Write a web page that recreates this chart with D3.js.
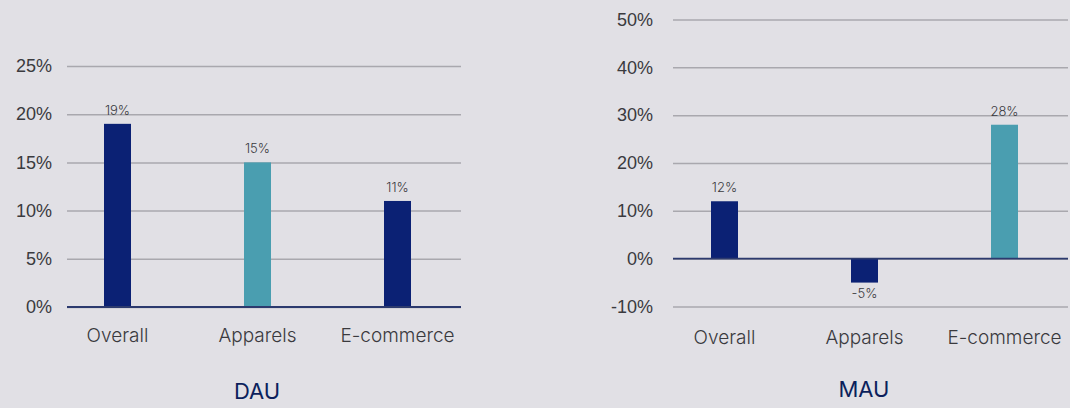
<!DOCTYPE html>
<html>
<head>
<meta charset="utf-8">
<script src="https://cdn.jsdelivr.net/npm/d3@7"></script>
<style>
  html, body { margin: 0; padding: 0; background: #e1e0e5; }
  svg { display: block; font-family: Inter, "Noto Sans", sans-serif; }
</style>
</head>
<body>
<svg id="chart" width="1070" height="408"></svg>
<script>
// Categories shared by both panels
const categories = ["Overall", "Apparels", "E-commerce"];

// Daily active users growth (%)
const dauValues = [19, 15, 11];
const dauTicks = [0, 5, 10, 15, 20, 25];

// Monthly active users growth (%)
const mauValues = [12, -5, 28];
const mauTicks = [-10, 0, 10, 20, 30, 40, 50];

const NAVY = "#0b2174";
const TEAL = "#4a9eb0";
const dauColors = [NAVY, TEAL, NAVY];
const mauColors = [NAVY, NAVY, TEAL];

const svg = d3.select("#chart");

function panel(opts) {
  const g = svg.append("g");
  const y = d3.scaleLinear().domain(opts.domain).range(opts.yRange);
  const x = d3.scalePoint().domain(categories).range(opts.xCenters);
  const barW = 27;

  // horizontal gridlines + tick labels
  const axis = d3.axisLeft(y)
    .tickValues(opts.ticks)
    .tickFormat(d => d + "%")
    .tickSize(-(opts.gridX[1] - opts.gridX[0]))
    .tickPadding(opts.gridX[0] - opts.labelRight);
  const ax = g.append("g")
    .attr("transform", `translate(${opts.gridX[0]},0)`)
    .call(axis);
  ax.select(".domain").remove();
  ax.selectAll(".tick line").attr("stroke", "#a9a8ae").attr("stroke-width", 1.5);
  ax.selectAll(".tick text")
    .attr("fill", "#3a3a3e")
    .style("font-size", "18px")
    .style("font-weight", 300);

  // bars
  g.selectAll("rect.bar")
    .data(opts.values)
    .join("rect")
    .attr("class", "bar")
    .attr("x", (d, i) => x(categories[i]) - barW / 2)
    .attr("width", barW)
    .attr("y", d => y(Math.max(0, d)))
    .attr("height", d => Math.abs(y(d) - y(0)))
    .attr("fill", (d, i) => opts.colors[i]);

  // zero baseline
  g.append("line")
    .attr("x1", opts.gridX[0]).attr("x2", opts.gridX[1])
    .attr("y1", y(0)).attr("y2", y(0))
    .attr("stroke", "#2c3a6e").attr("stroke-width", 1.8);

  // value labels
  g.selectAll("text.val")
    .data(opts.values)
    .join("text")
    .attr("class", "val")
    .attr("x", (d, i) => x(categories[i]))
    .attr("y", d => d >= 0 ? y(d) - 9 : y(d) + 15)
    .attr("text-anchor", "middle")
    .attr("fill", "#3a3a3e")
    .style("font-size", "13px")
    .style("font-weight", 300)
    .text(d => d + "%");

  // category labels
  g.selectAll("text.cat")
    .data(categories)
    .join("text")
    .attr("class", "cat")
    .attr("x", d => x(d))
    .attr("y", opts.catY)
    .attr("text-anchor", "middle")
    .attr("fill", "#3a3a3e")
    .style("font-size", "19px")
    .style("font-weight", 300)
    .text(d => d);

  // panel title
  g.append("text")
    .attr("x", opts.titleX)
    .attr("y", opts.titleY)
    .attr("text-anchor", "middle")
    .attr("fill", "#0b1f5c")
    .style("font-size", "22px")
    .text(opts.title);
}

panel({
  title: "DAU",
  values: dauValues,
  colors: dauColors,
  ticks: dauTicks,
  domain: [0, 25],
  yRange: [307, 66],
  gridX: [67, 461],
  labelRight: 52,
  xCenters: [117.5, 397.5],
  catY: 342,
  titleX: 257,
  titleY: 399
});

panel({
  title: "MAU",
  values: mauValues,
  colors: mauColors,
  ticks: mauTicks,
  domain: [-10, 50],
  yRange: [306.5, 19.5],
  gridX: [673, 1068],
  labelRight: 653,
  xCenters: [724.5, 1004.5],
  catY: 344,
  titleX: 864,
  titleY: 397
});
</script>
</body>
</html>
